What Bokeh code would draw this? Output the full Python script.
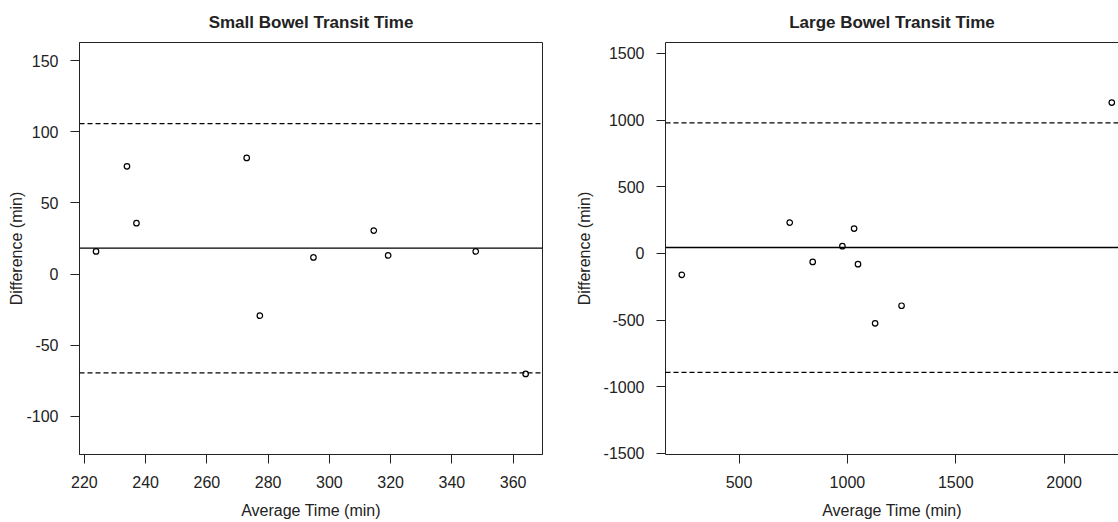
from bokeh.plotting import figure
from bokeh.models import Span, FixedTicker, LinearAxis, Range1d
from bokeh.layouts import row
from bokeh.embed import file_html
from bokeh.resources import INLINE

# ---- data ----
sb_avg = [223.8, 233.9, 237.0, 273.0, 277.3, 294.8, 314.5, 319.2, 347.8, 364.1]
sb_diff = [15.9, 75.8, 35.8, 81.7, -29.3, 11.7, 30.6, 13.1, 15.9, -70.2]
sb_mean = 18.3
sb_upper = 105.8
sb_lower = -69.5
sb_xticks = [220, 240, 260, 280, 300, 320, 340, 360]
sb_yticks = [-100, -50, 0, 50, 100, 150]

lb_avg = [236, 734, 840, 977, 1031, 1049, 1128, 1250, 2220]
lb_diff = [-160, 232, -63, 55, 187, -80, -524, -392, 1132]
lb_mean = 45
lb_upper = 980
lb_lower = -891
lb_xticks = [500, 1000, 1500, 2000]
lb_yticks = [-1500, -1000, -500, 0, 500, 1000, 1500]

FONT = "Liberation Sans"
INK = "#222222"


def style_axis(ax, ticks, standoff):
    ax.ticker = FixedTicker(ticks=ticks)
    ax.major_label_overrides = {t: str(t) for t in ticks}
    ax.minor_tick_line_color = None
    ax.major_tick_in = 0
    ax.major_tick_out = 9
    ax.major_tick_line_color = INK
    ax.axis_line_color = INK
    ax.major_label_text_font = FONT
    ax.major_label_text_font_size = "16px"
    ax.major_label_text_color = INK
    ax.major_label_standoff = standoff
    ax.axis_label_text_font = FONT
    ax.axis_label_text_font_size = "16px"
    ax.axis_label_text_font_style = "normal"
    ax.axis_label_text_color = INK


def make(title, xs, ys, mean, upper, lower, xr, yr, xticks, yticks,
         width, mb_left, mb_right, ylab_standoff, outline):
    p = figure(width=width, height=522, output_backend="svg", toolbar_location=None,
               x_range=Range1d(*xr), y_range=Range1d(*yr),
               min_border_left=mb_left, min_border_right=mb_right,
               min_border_top=42, min_border_bottom=68)
    p.title.text = title
    p.title.text_font = FONT
    p.title.text_font_size = "17px"
    p.title.text_font_style = "bold"
    p.title.text_color = INK
    p.title.align = "center"
    p.title.standoff = 21
    p.xgrid.visible = False
    p.ygrid.visible = False
    p.background_fill_color = "white"

    bottom = p.below[0]
    left = p.left[0]

    if outline:
        p.outline_line_color = INK
        p.outline_line_width = 1
    else:
        p.outline_line_color = None
        top = LinearAxis(ticker=FixedTicker(ticks=[]))
        top.major_tick_out = 0
        top.major_tick_in = 0
        top.minor_tick_line_color = None
        top.major_label_standoff = 0
        top.major_label_text_font_size = "0px"
        top.axis_line_color = INK
        p.add_layout(top, "above")

    style_axis(bottom, xticks, 12)
    style_axis(left, yticks, 12)
    bottom.axis_label = "Average Time (min)"
    bottom.axis_label_standoff = 11
    left.axis_label = "Difference (min)"
    left.axis_label_standoff = ylab_standoff

    p.add_layout(Span(location=mean, dimension="width", line_color="black", line_width=1.3))
    p.add_layout(Span(location=upper, dimension="width", line_color="black",
                      line_width=1.2, line_dash="5 3"))
    p.add_layout(Span(location=lower, dimension="width", line_color="black",
                      line_width=1.2, line_dash="5 3"))

    p.scatter(xs, ys, marker="circle", size=5.5, fill_color=None,
              line_color="black", line_width=1.2)
    return p


p1 = make("Small Bowel Transit Time", sb_avg, sb_diff, sb_mean, sb_upper, sb_lower,
          (218.4, 369.6), (-126.9, 162.85), sb_xticks, sb_yticks,
          558, 79, 16, -2, True)
p2 = make("Large Bowel Transit Time", lb_avg, lb_diff, lb_mean, lb_upper, lb_lower,
          (160.8, 2251), (-1507.5, 1582.4), lb_xticks, lb_yticks,
          560, 107, 0, 8, False)

layout = row(p1, p2)
open("out.html", "w").write(file_html(layout, INLINE))
